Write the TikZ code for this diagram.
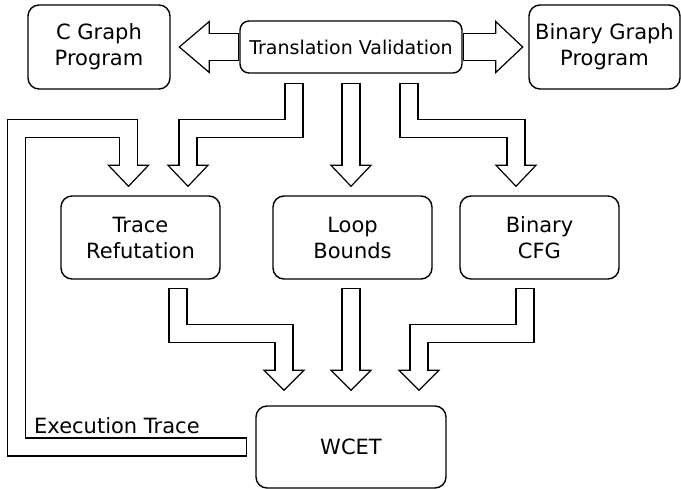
\documentclass[tikz,border=0pt]{standalone}
\usepackage{fontspec}
\setmainfont{DejaVu Sans}
\usetikzlibrary{calc}
\tikzset{
  box/.style={draw, line width=1.4pt, rounded corners=11pt, align=center,
    font=\fontsize{21}{26}\selectfont, inner sep=0pt},
  shaftout/.style={line width=19.2pt, line join=miter, draw=black},
  shaftin/.style={line width=16.8pt, line join=miter, draw=white, shorten <=1.2pt, shorten >=-1.5pt},
  hshaftout/.style={line width=28.2pt, draw=black},
  hshaftin/.style={line width=25.8pt, draw=white, shorten <=1.2pt, shorten >=-1.5pt},
  headst/.style={draw=black, fill=white, line width=1.2pt, line join=miter},
  lbl/.style={font=\fontsize{21}{26}\selectfont, inner sep=0pt},
}
\newcommand\downhead[2]{\draw[headst] ($(#1)+(-20,0)$) -- ($(#1)+(0,#2)$) -- ($(#1)+(20,0)$) -- cycle;}
\newcommand\barrow[3]{\draw[shaftout] #1; \downhead{#2}{#3} \draw[shaftin] #1;}
\begin{document}
\begin{tikzpicture}[x=1pt, y=-1pt]
\useasboundingbox (0,0) rectangle (681,489);
% boxes
\node[box, minimum width=142pt, minimum height=84pt] (cg) at (99,47) {C Graph\\Program};
\node[box, minimum width=222pt, minimum height=52pt, rounded corners=9pt,
  font=\fontsize{19}{23}\selectfont] (tv) at (351,47) {Translation Validation};
\node[box, minimum width=151pt, minimum height=84pt] (bg) at (604.5,47) {Binary Graph\\Program};
\node[box, minimum width=159pt, minimum height=83pt] (tr) at (140.5,237.5) {Trace\\Refutation};
\node[box, minimum width=159pt, minimum height=83pt] (lb) at (352.5,237.5) {Loop\\Bounds};
\node[box, minimum width=159pt, minimum height=83pt] (cfg) at (539.5,237.5) {Binary\\CFG};
\node[box, minimum width=190pt, minimum height=82pt] (wc) at (351,447) {WCET};
\node[lbl, anchor=base west] (et) at (34,433) {Execution Trace};
% horizontal double arrows
\coordinate (lh) at ($(tv.west)+(-30,0)$);
\coordinate (rh) at ($(tv.east)+(33,0)$);
\draw[hshaftout] (tv.west) -- (lh);
\draw[headst] ($(lh)+(0,-25.5)$) -- ($(lh)+(-30,0)$) -- ($(lh)+(0,25.5)$) -- cycle;
\draw[hshaftin] (tv.west) -- (lh);
\draw[hshaftout] (tv.east) -- (rh);
\draw[headst] ($(rh)+(0,-25.5)$) -- ($(rh)+(27,0)$) -- ($(rh)+(0,25.5)$) -- cycle;
\draw[hshaftin] (tv.east) -- (rh);
% arrows from translation validation
\coordinate (a1s) at ($(tv.south)+(-57,9)$);
\coordinate (a2s) at ($(tv.south)+(0,9)$);
\coordinate (a3s) at ($(tv.south)+(58,9)$);
\coordinate (a1h) at ($(tr.north)+(47.5,-30)$);
\coordinate (a2h) at ($(lb.north)+(-1.5,-30)$);
\coordinate (a3h) at ($(cfg.north)+(-23.5,-30)$);
\barrow{(a1s) -- ++(0,46) -| (a1h)}{a1h}{21}
\barrow{(a2s) -- (a2h)}{a2h}{21}
\barrow{(a3s) -- ++(0,46) -| (a3h)}{a3h}{21}
% feedback arrow
\coordinate (fs) at ($(wc.west)+(-8,0)$);
\coordinate (fh) at ($(tr.north)+(-12,-30)$);
\barrow{(fs) -- (16.5,447) |- ($(fh)+(0,-36.5)$) -- (fh)}{fh}{21}
% arrows to WCET
\coordinate (b1s) at ($(tr.south)+(37.5,8)$);
\coordinate (b2s) at ($(lb.south)+(-1.5,8)$);
\coordinate (b3s) at ($(cfg.south)+(-14.5,8)$);
\coordinate (b1h) at ($(wc.north)+(-67,-35)$);
\coordinate (b2h) at ($(wc.north)+(0,-35)$);
\coordinate (b3h) at ($(wc.north)+(68,-35)$);
\barrow{(b1s) -- ++(0,46) -| (b1h)}{b1h}{20}
\barrow{(b2s) -- (b2h)}{b2h}{20}
\barrow{(b3s) -- ++(0,46) -| (b3h)}{b3h}{20}
\end{tikzpicture}
\end{document}
